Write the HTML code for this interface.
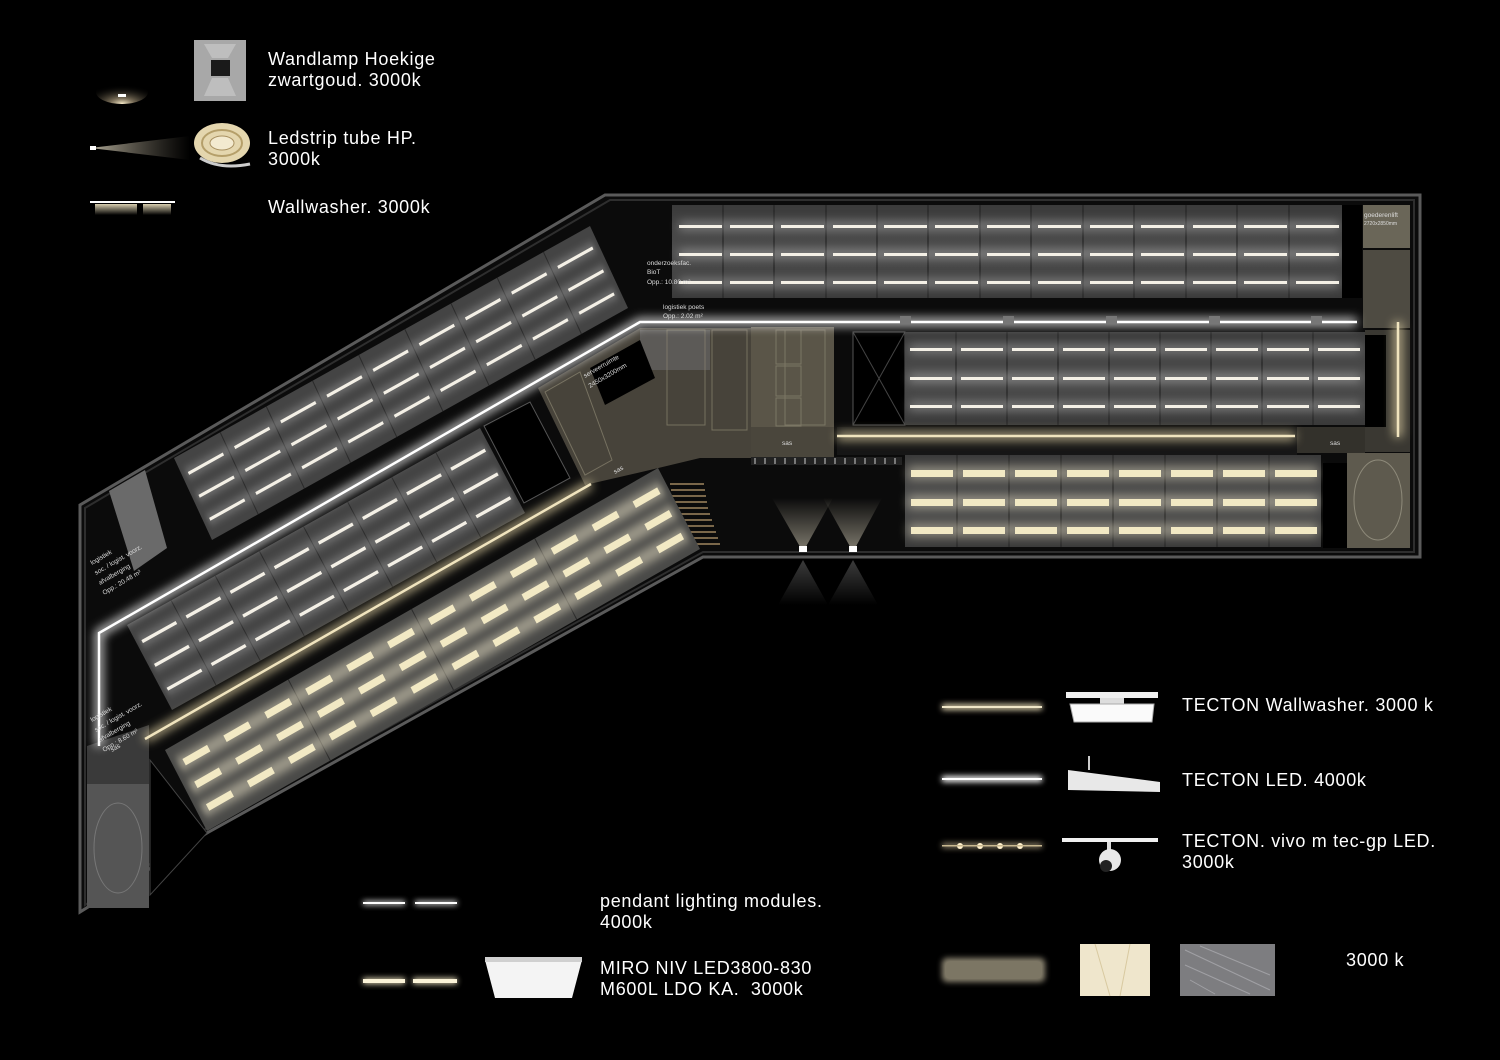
<!DOCTYPE html>
<html><head><meta charset="utf-8">
<style>
html,body{margin:0;padding:0;background:#000;}
body{width:1500px;height:1060px;overflow:hidden;position:relative;font-family:"Liberation Sans",sans-serif;}
svg{position:absolute;left:0;top:0;}
.t{position:absolute;color:#fff;font-size:18px;line-height:21px;letter-spacing:0.7px;white-space:nowrap;}
</style></head><body>
<svg width="1500" height="1060" viewBox="0 0 1500 1060" xmlns="http://www.w3.org/2000/svg">
<defs>
<filter id="gl" x="-50%" y="-200%" width="200%" height="500%"><feGaussianBlur stdDeviation="5"/></filter>
<filter id="gl2" x="-50%" y="-200%" width="200%" height="500%"><feGaussianBlur stdDeviation="3"/></filter>
<linearGradient id="cone" x1="0" y1="1" x2="0" y2="0"><stop offset="0" stop-color="#e8e0c8" stop-opacity="0.9"/><stop offset="1" stop-color="#e8e0c8" stop-opacity="0"/></linearGradient>
<linearGradient id="cone2" x1="0" y1="0" x2="0" y2="1"><stop offset="0" stop-color="#777" stop-opacity="0.5"/><stop offset="1" stop-color="#777" stop-opacity="0"/></linearGradient>
<linearGradient id="strip" x1="0" y1="0" x2="1" y2="0"><stop offset="0" stop-color="#fff6dc" stop-opacity="1"/><stop offset="1" stop-color="#a09580" stop-opacity="0"/></linearGradient>
<linearGradient id="ww" x1="0" y1="0" x2="0" y2="1"><stop offset="0" stop-color="#d9cfb0"/><stop offset="1" stop-color="#000"/></linearGradient>
<radialGradient id="lamp" cx="0.5" cy="1" r="0.8"><stop offset="0" stop-color="#fff3d0"/><stop offset="0.3" stop-color="#a8987a" stop-opacity="0.7"/><stop offset="1" stop-color="#000" stop-opacity="0"/></radialGradient>
<linearGradient id="cell" x1="0" y1="0" x2="0" y2="1"><stop offset="0" stop-color="#3a3a3a"/><stop offset="0.5" stop-color="#4d4d4d"/><stop offset="1" stop-color="#3a3a3a"/></linearGradient>
</defs>

<ellipse cx="122" cy="92" rx="26" ry="12" fill="url(#lamp)"/>
<rect x="118" y="94" width="8" height="3" fill="#fff"/>
<rect x="194" y="40" width="52" height="61" fill="#a8a8a8"/>
<polygon points="212,58 228,58 236,44 204,44" fill="#c8c8c8" opacity="0.7"/>
<polygon points="212,78 228,78 236,96 204,96" fill="#c8c8c8" opacity="0.7"/>
<rect x="211" y="60" width="19" height="16" fill="#1a1a1a"/>
<polygon points="90,148 190,136 190,160" fill="url(#strip)" opacity="0.7"/>
<rect x="90" y="146" width="6" height="4" fill="#fff"/>
<ellipse cx="222" cy="143" rx="28" ry="20" fill="#e4d6ae"/>
<ellipse cx="222" cy="143" rx="20" ry="13" fill="none" stroke="#b59f6a" stroke-width="2"/>
<ellipse cx="222" cy="143" rx="12" ry="7" fill="#f3ead0" stroke="#a89060"/>
<path d="M200,158 q20,12 50,6" stroke="#ccc" stroke-width="3" fill="none"/>
<rect x="90" y="201" width="85" height="2" fill="#fff"/>
<rect x="95" y="204" width="42" height="11" fill="url(#ww)"/>
<rect x="143" y="204" width="28" height="11" fill="url(#ww)"/>

<polygon points="605,195 1420,195 1420,557 703,557 207,833 80,912 80,505" fill="#0b0b0b" stroke="#5a5a5a" stroke-width="3"/>
<polygon points="610,200 1414,200 1414,552 703,552 207,828 85,905 85,508" fill="none" stroke="#2e2e2e" stroke-width="2"/>

<g>
<rect x="672" y="205" width="670" height="93" fill="url(#cell)"/>
<g stroke="#2a2a2a" stroke-width="1.5">
<line x1="723" y1="205" x2="723" y2="298"/><line x1="774" y1="205" x2="774" y2="298"/><line x1="826" y1="205" x2="826" y2="298"/><line x1="877" y1="205" x2="877" y2="298"/><line x1="928" y1="205" x2="928" y2="298"/><line x1="980" y1="205" x2="980" y2="298"/><line x1="1031" y1="205" x2="1031" y2="298"/><line x1="1083" y1="205" x2="1083" y2="298"/><line x1="1134" y1="205" x2="1134" y2="298"/><line x1="1186" y1="205" x2="1186" y2="298"/><line x1="1237" y1="205" x2="1237" y2="298"/><line x1="1289" y1="205" x2="1289" y2="298"/>
</g>
<g fill="#fff" opacity="0.35" filter="url(#gl)">
<rect x="679" y="222" width="660" height="8"/><rect x="679" y="250" width="660" height="8"/><rect x="679" y="279" width="660" height="8"/>
</g>
<g fill="#f4f0e6">
<rect x="679" y="225" width="43" height="3"/><rect x="730" y="225" width="43" height="3"/><rect x="781" y="225" width="43" height="3"/><rect x="833" y="225" width="43" height="3"/><rect x="884" y="225" width="43" height="3"/><rect x="935" y="225" width="43" height="3"/><rect x="987" y="225" width="43" height="3"/><rect x="1038" y="225" width="43" height="3"/><rect x="1090" y="225" width="43" height="3"/><rect x="1141" y="225" width="43" height="3"/><rect x="1193" y="225" width="43" height="3"/><rect x="1244" y="225" width="43" height="3"/><rect x="1296" y="225" width="43" height="3"/>
<rect x="679" y="253" width="43" height="3"/><rect x="730" y="253" width="43" height="3"/><rect x="781" y="253" width="43" height="3"/><rect x="833" y="253" width="43" height="3"/><rect x="884" y="253" width="43" height="3"/><rect x="935" y="253" width="43" height="3"/><rect x="987" y="253" width="43" height="3"/><rect x="1038" y="253" width="43" height="3"/><rect x="1090" y="253" width="43" height="3"/><rect x="1141" y="253" width="43" height="3"/><rect x="1193" y="253" width="43" height="3"/><rect x="1244" y="253" width="43" height="3"/><rect x="1296" y="253" width="43" height="3"/>
<rect x="679" y="281" width="43" height="3"/><rect x="730" y="281" width="43" height="3"/><rect x="781" y="281" width="43" height="3"/><rect x="833" y="281" width="43" height="3"/><rect x="884" y="281" width="43" height="3"/><rect x="935" y="281" width="43" height="3"/><rect x="987" y="281" width="43" height="3"/><rect x="1038" y="281" width="43" height="3"/><rect x="1090" y="281" width="43" height="3"/><rect x="1141" y="281" width="43" height="3"/><rect x="1193" y="281" width="43" height="3"/><rect x="1244" y="281" width="43" height="3"/><rect x="1296" y="281" width="43" height="3"/>
</g>
</g>
<rect x="1342" y="205" width="20" height="93" fill="#000"/>
<rect x="1363" y="205" width="47" height="43" fill="#6a6658"/>
<rect x="1363" y="250" width="47" height="78" fill="#4e4b42"/>
<rect x="1365" y="330" width="45" height="122" fill="#3a3832"/>

<polygon points="538,388 640,328 751,328 751,458 700,458 650,470 585,485" fill="#47433a"/>
<rect x="751" y="327" width="83" height="100" fill="#5a5548"/>
<rect x="751" y="427" width="83" height="30" fill="#4a463c"/>
<rect x="640" y="330" width="70" height="40" fill="#6a6a6a" opacity="0.6"/>
<g stroke="#8a8470" stroke-width="1" fill="none" opacity="0.7">
<rect x="667" y="330" width="38" height="95"/><rect x="712" y="330" width="35" height="100"/><rect x="776" y="330" width="25" height="34"/><rect x="776" y="366" width="25" height="30"/><rect x="776" y="398" width="25" height="28"/><rect x="785" y="330" width="40" height="95"/>
<polygon points="545,392 580,372 612,460 585,475"/>
</g>
<polygon points="590,368 640,340 655,378 605,405" fill="#000"/>
<rect x="837" y="427" width="460" height="28" fill="#161616"/>
<rect x="1297" y="427" width="68" height="26" fill="#33312b"/>
<rect x="751" y="457" width="151" height="8" fill="#222"/>
<g stroke="#777" stroke-width="2"><line x1="755" y1="458" x2="755" y2="464"/><line x1="765" y1="458" x2="765" y2="464"/><line x1="775" y1="458" x2="775" y2="464"/><line x1="785" y1="458" x2="785" y2="464"/><line x1="795" y1="458" x2="795" y2="464"/><line x1="805" y1="458" x2="805" y2="464"/><line x1="815" y1="458" x2="815" y2="464"/><line x1="825" y1="458" x2="825" y2="464"/><line x1="835" y1="458" x2="835" y2="464"/><line x1="845" y1="458" x2="845" y2="464"/><line x1="855" y1="458" x2="855" y2="464"/><line x1="865" y1="458" x2="865" y2="464"/><line x1="875" y1="458" x2="875" y2="464"/><line x1="885" y1="458" x2="885" y2="464"/><line x1="895" y1="458" x2="895" y2="464"/></g>
<g stroke="#a08660" stroke-width="1.5">
<line x1="670" y1="484" x2="704" y2="484"/><line x1="671" y1="490" x2="705" y2="490"/><line x1="672" y1="496" x2="706" y2="496"/><line x1="673" y1="502" x2="707" y2="502"/><line x1="674" y1="508" x2="708" y2="508"/><line x1="676" y1="514" x2="710" y2="514"/><line x1="678" y1="520" x2="712" y2="520"/><line x1="680" y1="526" x2="714" y2="526"/><line x1="682" y1="532" x2="716" y2="532"/><line x1="686" y1="538" x2="718" y2="538"/><line x1="690" y1="544" x2="720" y2="544"/>
</g>
<polygon points="803,552 772,498 833,498" fill="url(#cone)" opacity="0.6"/>
<polygon points="853,552 823,498 882,498" fill="url(#cone)" opacity="0.6"/>
<polygon points="803,560 778,605 828,605" fill="url(#cone2)"/>
<polygon points="853,560 828,605 878,605" fill="url(#cone2)"/>
<rect x="799" y="546" width="8" height="6" fill="#fff"/><rect x="849" y="546" width="8" height="6" fill="#fff"/>

<rect x="853" y="332" width="52" height="93" fill="#000" stroke="#555"/>
<line x1="853" y1="332" x2="905" y2="425" stroke="#444"/><line x1="905" y1="332" x2="853" y2="425" stroke="#444"/>
<rect x="905" y="332" width="460" height="93" fill="url(#cell)"/>
<g stroke="#2a2a2a" stroke-width="1.5">
<line x1="956" y1="332" x2="956" y2="425"/><line x1="1007" y1="332" x2="1007" y2="425"/><line x1="1058" y1="332" x2="1058" y2="425"/><line x1="1109" y1="332" x2="1109" y2="425"/><line x1="1160" y1="332" x2="1160" y2="425"/><line x1="1211" y1="332" x2="1211" y2="425"/><line x1="1262" y1="332" x2="1262" y2="425"/><line x1="1313" y1="332" x2="1313" y2="425"/>
</g>
<g fill="#fff" opacity="0.35" filter="url(#gl)"><rect x="909" y="345" width="452" height="8"/><rect x="909" y="374" width="452" height="8"/><rect x="909" y="402" width="452" height="8"/></g>
<g fill="#f4f0e6">
<rect x="910" y="348" width="42" height="3"/><rect x="961" y="348" width="42" height="3"/><rect x="1012" y="348" width="42" height="3"/><rect x="1063" y="348" width="42" height="3"/><rect x="1114" y="348" width="42" height="3"/><rect x="1165" y="348" width="42" height="3"/><rect x="1216" y="348" width="42" height="3"/><rect x="1267" y="348" width="42" height="3"/><rect x="1318" y="348" width="42" height="3"/>
<rect x="910" y="377" width="42" height="3"/><rect x="961" y="377" width="42" height="3"/><rect x="1012" y="377" width="42" height="3"/><rect x="1063" y="377" width="42" height="3"/><rect x="1114" y="377" width="42" height="3"/><rect x="1165" y="377" width="42" height="3"/><rect x="1216" y="377" width="42" height="3"/><rect x="1267" y="377" width="42" height="3"/><rect x="1318" y="377" width="42" height="3"/>
<rect x="910" y="405" width="42" height="3"/><rect x="961" y="405" width="42" height="3"/><rect x="1012" y="405" width="42" height="3"/><rect x="1063" y="405" width="42" height="3"/><rect x="1114" y="405" width="42" height="3"/><rect x="1165" y="405" width="42" height="3"/><rect x="1216" y="405" width="42" height="3"/><rect x="1267" y="405" width="42" height="3"/><rect x="1318" y="405" width="42" height="3"/>
</g>
<rect x="1365" y="335" width="21" height="92" fill="#000"/>

<rect x="905" y="455" width="416" height="92" fill="url(#cell)"/>
<g stroke="#2a2a2a" stroke-width="1.5">
<line x1="957" y1="455" x2="957" y2="547"/><line x1="1009" y1="455" x2="1009" y2="547"/><line x1="1061" y1="455" x2="1061" y2="547"/><line x1="1113" y1="455" x2="1113" y2="547"/><line x1="1165" y1="455" x2="1165" y2="547"/><line x1="1217" y1="455" x2="1217" y2="547"/><line x1="1269" y1="455" x2="1269" y2="547"/>
</g>
<g fill="#fff6d8" opacity="0.4" filter="url(#gl)"><rect x="908" y="466" width="410" height="14"/><rect x="908" y="495" width="410" height="14"/><rect x="908" y="523" width="410" height="14"/></g>
<g fill="#f2e9c4">
<rect x="911" y="470" width="42" height="7"/><rect x="963" y="470" width="42" height="7"/><rect x="1015" y="470" width="42" height="7"/><rect x="1067" y="470" width="42" height="7"/><rect x="1119" y="470" width="42" height="7"/><rect x="1171" y="470" width="42" height="7"/><rect x="1223" y="470" width="42" height="7"/><rect x="1275" y="470" width="42" height="7"/>
<rect x="911" y="499" width="42" height="7"/><rect x="963" y="499" width="42" height="7"/><rect x="1015" y="499" width="42" height="7"/><rect x="1067" y="499" width="42" height="7"/><rect x="1119" y="499" width="42" height="7"/><rect x="1171" y="499" width="42" height="7"/><rect x="1223" y="499" width="42" height="7"/><rect x="1275" y="499" width="42" height="7"/>
<rect x="911" y="527" width="42" height="7"/><rect x="963" y="527" width="42" height="7"/><rect x="1015" y="527" width="42" height="7"/><rect x="1067" y="527" width="42" height="7"/><rect x="1119" y="527" width="42" height="7"/><rect x="1171" y="527" width="42" height="7"/><rect x="1223" y="527" width="42" height="7"/><rect x="1275" y="527" width="42" height="7"/>
</g>
<rect x="1323" y="463" width="24" height="85" fill="#000"/>
<rect x="1347" y="453" width="63" height="95" fill="#5e5a4e"/>
<ellipse cx="1378" cy="500" rx="24" ry="40" fill="none" stroke="#8e8a7a"/>

<g transform="matrix(0.416 -0.232 0.38 0.82 174 458)">
<rect x="0" y="0" width="1000" height="100" fill="#444"/>
<g stroke="#2a2a2a">
<line x1="111" y1="0" x2="111" y2="100" vector-effect="non-scaling-stroke"/><line x1="222" y1="0" x2="222" y2="100" vector-effect="non-scaling-stroke"/><line x1="333" y1="0" x2="333" y2="100" vector-effect="non-scaling-stroke"/><line x1="444" y1="0" x2="444" y2="100" vector-effect="non-scaling-stroke"/><line x1="555" y1="0" x2="555" y2="100" vector-effect="non-scaling-stroke"/><line x1="666" y1="0" x2="666" y2="100" vector-effect="non-scaling-stroke"/><line x1="777" y1="0" x2="777" y2="100" vector-effect="non-scaling-stroke"/><line x1="888" y1="0" x2="888" y2="100" vector-effect="non-scaling-stroke"/>
</g>
<g fill="#fff" opacity="0.3" filter="url(#gl)"><rect x="10" y="18" width="980" height="9"/><rect x="10" y="46" width="980" height="9"/><rect x="10" y="74" width="980" height="9"/></g>
<g fill="#f4f0e6">
<rect x="14" y="21" width="84" height="3.5"/><rect x="125" y="21" width="84" height="3.5"/><rect x="236" y="21" width="84" height="3.5"/><rect x="347" y="21" width="84" height="3.5"/><rect x="458" y="21" width="84" height="3.5"/><rect x="569" y="21" width="84" height="3.5"/><rect x="680" y="21" width="84" height="3.5"/><rect x="791" y="21" width="84" height="3.5"/><rect x="902" y="21" width="84" height="3.5"/>
<rect x="14" y="49" width="84" height="3.5"/><rect x="125" y="49" width="84" height="3.5"/><rect x="236" y="49" width="84" height="3.5"/><rect x="347" y="49" width="84" height="3.5"/><rect x="458" y="49" width="84" height="3.5"/><rect x="569" y="49" width="84" height="3.5"/><rect x="680" y="49" width="84" height="3.5"/><rect x="791" y="49" width="84" height="3.5"/><rect x="902" y="49" width="84" height="3.5"/>
<rect x="14" y="77" width="84" height="3.5"/><rect x="125" y="77" width="84" height="3.5"/><rect x="236" y="77" width="84" height="3.5"/><rect x="347" y="77" width="84" height="3.5"/><rect x="458" y="77" width="84" height="3.5"/><rect x="569" y="77" width="84" height="3.5"/><rect x="680" y="77" width="84" height="3.5"/><rect x="791" y="77" width="84" height="3.5"/><rect x="902" y="77" width="84" height="3.5"/>
</g>
</g>

<g transform="matrix(0.353 -0.197 0.45 0.85 127 625)">
<rect x="0" y="0" width="1000" height="100" fill="#444"/>
<g stroke="#2a2a2a">
<line x1="125" y1="0" x2="125" y2="100" vector-effect="non-scaling-stroke"/><line x1="250" y1="0" x2="250" y2="100" vector-effect="non-scaling-stroke"/><line x1="375" y1="0" x2="375" y2="100" vector-effect="non-scaling-stroke"/><line x1="500" y1="0" x2="500" y2="100" vector-effect="non-scaling-stroke"/><line x1="625" y1="0" x2="625" y2="100" vector-effect="non-scaling-stroke"/><line x1="750" y1="0" x2="750" y2="100" vector-effect="non-scaling-stroke"/><line x1="875" y1="0" x2="875" y2="100" vector-effect="non-scaling-stroke"/>
</g>
<g fill="#fff" opacity="0.3" filter="url(#gl)"><rect x="10" y="18" width="980" height="9"/><rect x="10" y="46" width="980" height="9"/><rect x="10" y="74" width="980" height="9"/></g>
<g fill="#f4f0e6">
<rect x="14" y="21" width="97" height="3.5"/><rect x="139" y="21" width="97" height="3.5"/><rect x="264" y="21" width="97" height="3.5"/><rect x="389" y="21" width="97" height="3.5"/><rect x="514" y="21" width="97" height="3.5"/><rect x="639" y="21" width="97" height="3.5"/><rect x="764" y="21" width="97" height="3.5"/><rect x="889" y="21" width="97" height="3.5"/>
<rect x="14" y="49" width="97" height="3.5"/><rect x="139" y="49" width="97" height="3.5"/><rect x="264" y="49" width="97" height="3.5"/><rect x="389" y="49" width="97" height="3.5"/><rect x="514" y="49" width="97" height="3.5"/><rect x="639" y="49" width="97" height="3.5"/><rect x="764" y="49" width="97" height="3.5"/><rect x="889" y="49" width="97" height="3.5"/>
<rect x="14" y="77" width="97" height="3.5"/><rect x="139" y="77" width="97" height="3.5"/><rect x="264" y="77" width="97" height="3.5"/><rect x="389" y="77" width="97" height="3.5"/><rect x="514" y="77" width="97" height="3.5"/><rect x="639" y="77" width="97" height="3.5"/><rect x="764" y="77" width="97" height="3.5"/><rect x="889" y="77" width="97" height="3.5"/>
</g>
</g>
<polygon points="484,426 530,402 570,478 524,503" fill="#000" stroke="#555"/>

<g transform="matrix(0.493 -0.282 0.42 0.81 165 750)">
<rect x="0" y="0" width="1000" height="100" fill="#4a4a48"/>
<g stroke="#2a2a2a">
<line x1="250" y1="0" x2="250" y2="100" vector-effect="non-scaling-stroke"/><line x1="500" y1="0" x2="500" y2="100" vector-effect="non-scaling-stroke"/><line x1="750" y1="0" x2="750" y2="100" vector-effect="non-scaling-stroke"/>
</g>
<g fill="#fff6d8" opacity="0.45" filter="url(#gl)"><rect x="10" y="14" width="980" height="16"/><rect x="10" y="42" width="980" height="16"/><rect x="10" y="70" width="980" height="16"/></g>
<g fill="#f2e9c4">
<rect x="20" y="18" width="50" height="8"/><rect x="103" y="18" width="50" height="8"/><rect x="186" y="18" width="50" height="8"/><rect x="269" y="18" width="50" height="8"/><rect x="352" y="18" width="50" height="8"/><rect x="435" y="18" width="50" height="8"/><rect x="518" y="18" width="50" height="8"/><rect x="601" y="18" width="50" height="8"/><rect x="684" y="18" width="50" height="8"/><rect x="767" y="18" width="50" height="8"/><rect x="850" y="18" width="50" height="8"/><rect x="933" y="18" width="50" height="8"/>
<rect x="20" y="46" width="50" height="8"/><rect x="103" y="46" width="50" height="8"/><rect x="186" y="46" width="50" height="8"/><rect x="269" y="46" width="50" height="8"/><rect x="352" y="46" width="50" height="8"/><rect x="435" y="46" width="50" height="8"/><rect x="518" y="46" width="50" height="8"/><rect x="601" y="46" width="50" height="8"/><rect x="684" y="46" width="50" height="8"/><rect x="767" y="46" width="50" height="8"/><rect x="850" y="46" width="50" height="8"/><rect x="933" y="46" width="50" height="8"/>
<rect x="20" y="74" width="50" height="8"/><rect x="103" y="74" width="50" height="8"/><rect x="186" y="74" width="50" height="8"/><rect x="269" y="74" width="50" height="8"/><rect x="352" y="74" width="50" height="8"/><rect x="435" y="74" width="50" height="8"/><rect x="518" y="74" width="50" height="8"/><rect x="601" y="74" width="50" height="8"/><rect x="684" y="74" width="50" height="8"/><rect x="767" y="74" width="50" height="8"/><rect x="850" y="74" width="50" height="8"/><rect x="933" y="74" width="50" height="8"/>
</g>
</g>

<polygon points="109,491 145,470 167,548 134,571" fill="#6a6a6a"/>
<polygon points="87,746 149,725 149,784 87,784" fill="#3a3a3a"/>
<rect x="87" y="784" width="62" height="124" fill="#555"/>
<ellipse cx="118" cy="848" rx="24" ry="45" fill="none" stroke="#777"/>
<polygon points="150,760 207,833 150,895" fill="#000" stroke="#444"/>

<g filter="url(#gl)" opacity="0.8" stroke="#fff" stroke-width="8" fill="none">
<polyline points="99,746 99,633 640,322 1357,322"/>
</g>
<polyline points="99,746 99,633 640,322 1357,322" stroke="#fff" stroke-width="2.5" fill="none"/>
<g filter="url(#gl)" opacity="0.8" stroke="#e6d7a8" stroke-width="8"><line x1="145" y1="739" x2="591" y2="484"/><line x1="837" y1="436" x2="1295" y2="436"/><line x1="1398" y1="322" x2="1398" y2="437"/></g>
<g stroke="#f0e4be" stroke-width="2.5"><line x1="145" y1="739" x2="591" y2="484"/><line x1="837" y1="436" x2="1295" y2="436"/><line x1="1398" y1="322" x2="1398" y2="437"/></g>
<g fill="#777"><rect x="900" y="316" width="11" height="8"/><rect x="1003" y="316" width="11" height="8"/><rect x="1106" y="316" width="11" height="8"/><rect x="1209" y="316" width="11" height="8"/><rect x="1311" y="316" width="11" height="8"/></g>

<g fill="#ddd" font-family="Liberation Sans,sans-serif" font-size="6.5">
<text x="647" y="265">onderzoeksfac.</text><text x="647" y="274">BioT</text><text x="647" y="284">Opp.: 10.80 m²</text>
<text x="663" y="309">logistiek poets</text><text x="663" y="318">Opp.: 2.02 m²</text>
<text x="1364" y="217">goederenlift</text><text x="1364" y="225" font-size="5">2720x2850mm</text>
<text x="782" y="445">sas</text><text x="1330" y="445">sas</text>
<text transform="translate(92,565) rotate(-30)">logistiek</text>
<text transform="translate(96,575) rotate(-30)">soc. / logist. voorz.</text>
<text transform="translate(100,585) rotate(-30)">afvalberging</text>
<text transform="translate(104,595) rotate(-30)">Opp.: 20.48 m²</text>
<text transform="translate(92,722) rotate(-30)">logistiek</text>
<text transform="translate(96,732) rotate(-30)">soc. / logist. voorz.</text>
<text transform="translate(100,742) rotate(-30)">afvalberging</text>
<text transform="translate(104,752) rotate(-30)">Opp.: 8.60 m²</text>
<text transform="translate(585,378) rotate(-30)">serveerruimte</text>
<text transform="translate(590,388) rotate(-30)">2450x3200mm</text>
<text transform="translate(112,752) rotate(-30)">sas</text>
<text transform="translate(615,474) rotate(-30)">sas</text>
</g>

<g filter="url(#gl2)" opacity="0.9"><rect x="363" y="901" width="42" height="4" fill="#fff"/><rect x="415" y="901" width="42" height="4" fill="#fff"/><rect x="363" y="978" width="42" height="6" fill="#f4eac6"/><rect x="413" y="978" width="44" height="6" fill="#f4eac6"/></g>
<rect x="363" y="902" width="42" height="2" fill="#fff"/><rect x="415" y="902" width="42" height="2" fill="#fff"/>
<rect x="363" y="979" width="42" height="4" fill="#fbf3d8"/><rect x="413" y="979" width="44" height="4" fill="#fbf3d8"/>
<polygon points="485,960 582,960 572,998 495,998" fill="#f4f4f4"/>
<rect x="485" y="957" width="97" height="5" fill="#d0d0d0"/>

<g filter="url(#gl2)"><rect x="942" y="704" width="100" height="6" fill="#d8ccaa"/><rect x="942" y="776" width="100" height="6" fill="#fff"/><rect x="942" y="843" width="100" height="5" fill="#8a7f68"/><rect x="942" y="958" width="103" height="24" rx="5" fill="#8a8370"/></g>
<rect x="942" y="706" width="100" height="2" fill="#efe6c8"/>
<rect x="942" y="778" width="100" height="2" fill="#fff"/>
<g fill="#fff1cc"><circle cx="960" cy="846" r="3"/><circle cx="980" cy="846" r="3"/><circle cx="1000" cy="846" r="3"/><circle cx="1020" cy="846" r="3"/></g>
<rect x="942" y="845" width="100" height="1.5" fill="#c8b890"/>
<rect x="946" y="962" width="95" height="16" rx="4" fill="#7c7664"/>
<rect x="1066" y="692" width="92" height="6" fill="#f0f0f0"/>
<rect x="1100" y="698" width="24" height="6" fill="#ddd"/>
<polygon points="1070,704 1154,704 1152,722 1074,722" fill="#fafafa" stroke="#aaa"/>
<polygon points="1068,770 1160,782 1160,792 1068,790" fill="#e8e8e8"/>
<rect x="1088" y="756" width="2" height="14" fill="#ccc"/>
<rect x="1062" y="838" width="96" height="4" fill="#f0f0f0"/>
<rect x="1107" y="842" width="4" height="8" fill="#ddd"/>
<circle cx="1110" cy="860" r="11" fill="#e8e8e8"/>
<circle cx="1106" cy="866" r="6" fill="#222"/>
<rect x="1080" y="944" width="70" height="52" fill="#efe6cc"/>
<line x1="1095" y1="944" x2="1110" y2="996" stroke="#d8c9a0"/><line x1="1130" y1="944" x2="1120" y2="996" stroke="#d8c9a0"/>
<rect x="1180" y="944" width="95" height="52" fill="#7d7d80"/>
<g stroke="#a0a0a4" stroke-width="1"><line x1="1185" y1="950" x2="1270" y2="990"/><line x1="1185" y1="965" x2="1250" y2="994"/><line x1="1200" y1="946" x2="1270" y2="975"/><line x1="1190" y1="980" x2="1215" y2="994"/></g>
</svg>

<div class="t" style="left:268px;top:49px;">Wandlamp Hoekige<br>zwartgoud. 3000k</div>
<div class="t" style="left:268px;top:128px;">Ledstrip tube HP.<br>3000k</div>
<div class="t" style="left:268px;top:197px;">Wallwasher. 3000k</div>
<div class="t" style="left:1182px;top:695px;">TECTON Wallwasher. 3000 k</div>
<div class="t" style="left:1182px;top:770px;">TECTON LED. 4000k</div>
<div class="t" style="left:1182px;top:831px;">TECTON. vivo m tec-gp LED.<br>3000k</div>
<div class="t" style="left:1346px;top:950px;">3000 k</div>
<div class="t" style="left:600px;top:891px;">pendant lighting modules.<br>4000k</div>
<div class="t" style="left:600px;top:958px;">MIRO NIV LED3800-830<br>M600L LDO KA.&nbsp; 3000k</div>
</body></html>
